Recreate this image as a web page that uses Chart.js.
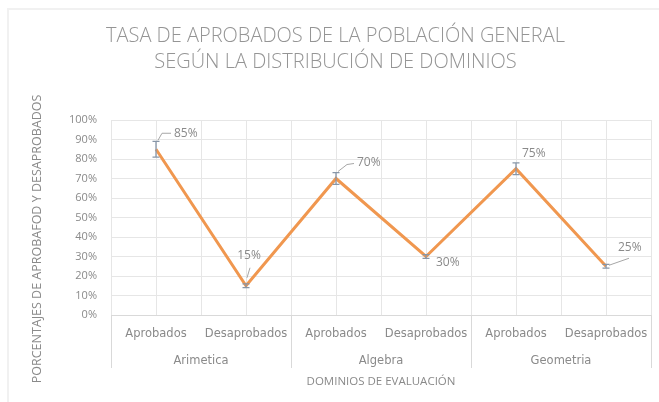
<!DOCTYPE html>
<html><head><meta charset="utf-8">
<script src="https://cdn.jsdelivr.net/npm/chart.js@4/dist/chart.umd.min.js"></script>
<style>
html,body{margin:0;padding:0;background:#fff;overflow:hidden}
#wrap{position:relative;width:659px;height:402px}
#frame{position:absolute;left:7px;top:8px;width:700px;height:420px;border:2px solid #f1f1f1;box-sizing:border-box}
canvas{position:absolute;left:0;top:0}
</style></head><body>
<div id="wrap"><div id="frame"></div><canvas id="c" width="659" height="402"></canvas></div>
<script>
// ---- data ----
const titleLines = ['TASA DE APROBADOS DE LA POBLACIÓN GENERAL', 'SEGÚN LA DISTRIBUCIÓN DE DOMINIOS'];
const categories = ['Aprobados', 'Desaprobados', 'Aprobados', 'Desaprobados', 'Aprobados', 'Desaprobados'];
const groups = ['Arimetica', 'Algebra', 'Geometria'];
const values = [85, 15, 70, 30, 75, 25];
const errors = [4, 1, 3, 1, 3, 1];
const yTitle = 'PORCENTAJES DE APROBAFOD Y DESAPROBADOS';
const xTitle = 'DOMINIOS DE EVALUACIÓN';

// ---- label placement (relative to each point, px) ----
const labelPlacement = [
  { dx: 18, dy: -16, align: 'left', leader: [[2, -9], [6, -16], [15, -16]] },
  { dx: 3, dy: -30, align: 'center', leader: [[1, -8], [4, -18]] },
  { dx: 21, dy: -16, align: 'left', leader: [[2, -7], [11, -14], [18, -15]] },
  { dx: 10, dy: 6, align: 'left', leader: null },
  { dx: 6, dy: -15, align: 'left', leader: null },
  { dx: 12, dy: -19, align: 'left', leader: [[3, -1], [23, -8]] }
];

const gridColor = '#e6e6e6';
const sepColor = '#d9d9d9';
const textColor = '#8a8a8a';

const extras = {
  id: 'extras',
  afterDatasetsDraw(chart) {
    const ctx = chart.ctx;
    const x = chart.scales.x, y = chart.scales.y;
    ctx.save();
    // error bars
    ctx.strokeStyle = '#8796a8';
    ctx.lineWidth = 1.3;
    values.forEach((v, i) => {
      const px = x.getPixelForValue(i);
      const top = y.getPixelForValue(v + errors[i]);
      const bot = y.getPixelForValue(v - errors[i]);
      ctx.beginPath();
      ctx.moveTo(px, top); ctx.lineTo(px, bot);
      ctx.moveTo(px - 3.5, top); ctx.lineTo(px + 3.5, top);
      ctx.moveTo(px - 3.5, bot); ctx.lineTo(px + 3.5, bot);
      ctx.stroke();
    });
    // data labels
    ctx.font = '12px "Open Sans"';
    ctx.fillStyle = textColor;
    ctx.textBaseline = 'middle';
    values.forEach((v, i) => {
      const px = x.getPixelForValue(i);
      const py = y.getPixelForValue(v);
      const p = labelPlacement[i];
      if (p.leader) {
        ctx.strokeStyle = '#a6a6a6';
        ctx.lineWidth = 1;
        ctx.beginPath();
        p.leader.forEach((pt, k) => {
          if (k === 0) ctx.moveTo(px + pt[0], py + pt[1]);
          else ctx.lineTo(px + pt[0], py + pt[1]);
        });
        ctx.stroke();
      }
      ctx.textAlign = p.align;
      ctx.fillText(v + '%', px + p.dx, py + p.dy);
    });
    // y axis title
    const ca = chart.chartArea;
    ctx.save();
    ctx.translate(ca.left - 74, ca.bottom - 76);
    ctx.rotate(-Math.PI / 2);
    ctx.textAlign = 'center';
    ctx.font = '12.5px "Open Sans"';
    ctx.fillStyle = textColor;
    ctx.fillText(yTitle, 0, 0);
    ctx.restore();
    ctx.restore();
  }
};

new Chart(document.getElementById('c'), {
  type: 'line',
  data: {
    labels: categories,
    datasets: [{
      data: values,
      borderColor: '#f0974f',
      borderWidth: 3,
      pointRadius: 0,
      tension: 0,
      fill: false,
      xAxisID: 'x',
      yAxisID: 'y'
    }]
  },
  options: {
    responsive: false,
    animation: false,
    devicePixelRatio: 1,
    layout: { padding: { left: 20, right: 8, top: 0, bottom: 9 } },
    plugins: {
      legend: { display: false },
      tooltip: { enabled: false },
      title: {
        display: true,
        text: titleLines,
        color: '#959595',
        font: { family: '"Open Sans"', size: 20, weight: 300, lineHeight: 1.3 },
        padding: { top: 23, bottom: 45 }
      }
    },
    scales: {
      xc: {
        type: 'category',
        position: 'bottom',
        weight: 0,
        offset: true,
        grid: { offset: false, color: gridColor, drawTicks: false },
        border: { display: false },
        ticks: { display: false },
        afterFit(s) { s.height = 0; }
      },
      x: {
        type: 'category',
        position: 'bottom',
        weight: 1,
        offset: true,
        grid: {
          offset: true,
          color: gridColor,
          tickLength: 30,
          tickColor: (c) => (c.index === undefined || c.index % 2 === 0) ? sepColor : 'rgba(0,0,0,0)'
        },
        border: { display: true, color: '#d9d9d9' },
        ticks: {
          color: textColor,
          font: { family: '"DejaVu Sans"', size: 11.5 },
          padding: -18,
          maxRotation: 0,
          autoSkip: false
        },
        afterFit(s) { s.height = 30; }
      },
      xg: {
        type: 'category',
        position: 'bottom',
        weight: 2,
        labels: groups,
        offset: true,
        grid: { offset: true, drawOnChartArea: false, tickLength: 23, tickColor: sepColor },
        border: { display: false },
        ticks: {
          color: textColor,
          font: { family: '"DejaVu Sans"', size: 11.5 },
          padding: -14,
          maxRotation: 0,
          autoSkip: false
        },
        title: {
          display: true,
          text: xTitle,
          color: textColor,
          font: { family: '"Open Sans"', size: 11.5 },
          padding: { top: 0, bottom: 4 }
        },
        afterFit(s) { s.height = 48; }
      },
      y: {
        min: 0,
        max: 100,
        grid: { color: gridColor, drawTicks: false },
        border: { display: false },
        ticks: {
          stepSize: 10,
          color: textColor,
          padding: 14,
          font: { family: '"Open Sans"', size: 11 },
          callback: (v) => v + '%'
        },
        afterFit(s) { s.width = 91; }
      }
    }
  },
  plugins: [extras]
});
</script>
</body></html>
